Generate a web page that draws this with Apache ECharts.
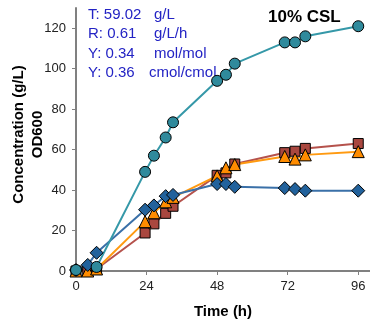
<!DOCTYPE html>
<html>
<head>
<meta charset="utf-8">
<script src="https://cdn.jsdelivr.net/npm/echarts@6/dist/echarts.min.js"></script>
<style>
  html, body { margin: 0; padding: 0; background: #fff; }
  #chart { width: 370px; height: 324px; }
</style>
</head>
<body>
<div id="chart"></div>
<script>
// sampling times (h)
const times = [0, 4, 7, 23.5, 26.5, 30.5, 33, 48, 51, 54, 71, 74.5, 78, 96];

// series values (null = no sample)
const od600 = [0.5, null, 2, 49, 57, 66, 73.5, 94, 97, 102.5, 113, 113, 116, 121];
const diamondVals = [0.5, 3, 9, 30.3, 32.4, 37, 37.6, 43, 43, 41.6, 41, 40.5, 39.7, 39.7];
const squareVals = [0, 0, 1, 18.8, 23.3, 28.5, 32, 47.3, 48.5, 52.9, 58.5, 59.2, 60.6, 63];
const triangleVals = [0, 0, 1, 24.4, 28.8, 34.2, 36.4, 47, 51, 52.6, 56.6, 55.3, 57.4, 59];

const xTicks = [0, 24, 48, 72, 96];
const yTicks = [0, 20, 40, 60, 80, 100, 120];

const infoLines = [
  ['T: 59.02', 'g/L'],
  ['R: 0.61', 'g/L/h'],
  ['Y: 0.34', 'mol/mol'],
  ['Y: 0.36', 'cmol/cmol']
];

const pair = vals => times.map((t, i) => [t, vals[i]]);

const font = '"Liberation Sans", Arial, sans-serif';
const axisGray = '#808080';
const infoBlue = '#2323c4';

const chart = echarts.init(document.getElementById('chart'));

function mkSeries(name, vals, symbol, size, fill, lineColor) {
  return {
    name,
    type: 'line',
    data: pair(vals),
    symbol,
    symbolSize: size,
    showAllSymbol: true,
    connectNulls: true,
    lineStyle: { color: lineColor, width: 2 },
    itemStyle: { color: fill, borderColor: '#000', borderWidth: 1 },
    emphasis: { disabled: true },
    animation: false
  };
}

const unitX = [154, 154, 154, 149];
const rowY = [16, 35.5, 55, 74.5];
const graphics = [];
infoLines.forEach((ln, i) => {
  graphics.push({
    type: 'text', left: 88, top: rowY[i] - 9,
    style: { text: ln[0], font: '15px ' + font, fill: infoBlue }
  });
  graphics.push({
    type: 'text', left: unitX[i], top: rowY[i] - 9,
    style: { text: ln[1], font: '15px ' + font, fill: infoBlue }
  });
});
graphics.push({
  type: 'text', left: 268, top: 9,
  style: { text: '10% CSL', font: 'bold 17px ' + font, fill: '#000' }
});
// y axis title (two lines, rotated)
graphics.push({
  type: 'text', x: 19, y: 134.5, rotation: Math.PI / 2,
  style: { text: 'Concentration (g/L)', font: 'bold 15px ' + font, fill: '#000', align: 'center', verticalAlign: 'middle' }
});
graphics.push({
  type: 'text', x: 38, y: 134.5, rotation: Math.PI / 2,
  style: { text: 'OD600', font: 'bold 15px ' + font, fill: '#000', align: 'center', verticalAlign: 'middle' }
});

const option = {
  backgroundColor: '#fff',
  animation: false,
  grid: { left: 76, right: 0, top: 8, bottom: 47, containLabel: false },
  xAxis: {
    type: 'value',
    min: 0,
    max: 100,
    interval: 4,
    name: 'Time (h)',
    nameLocation: 'middle',
    nameGap: 33,
    nameTextStyle: { fontFamily: font, fontWeight: 'bold', fontSize: 15, color: '#000' },
    axisLine: { lineStyle: { color: axisGray, width: 2 } },
    axisTick: { show: true, length: 4, lineStyle: { color: axisGray }, customValues: xTicks },
    axisLabel: { customValues: xTicks, margin: 9, fontFamily: font, fontSize: 13, color: '#222' },
    splitLine: { show: false }
  },
  yAxis: {
    type: 'value',
    min: 0,
    max: 130,
    interval: 10,
    axisLine: { show: true, lineStyle: { color: axisGray, width: 2 } },
    axisTick: { show: true, length: 4, lineStyle: { color: axisGray }, customValues: yTicks },
    axisLabel: { customValues: yTicks, margin: 10, fontFamily: font, fontSize: 13, color: '#222' },
    splitLine: { show: false }
  },
  graphic: graphics,
  series: [
    mkSeries('square', squareVals, 'rect', 10, '#a9473f', '#b5524c'),
    mkSeries('triangle', triangleVals, 'triangle', 12, '#ff8c00', '#ff9a10'),
    mkSeries('diamond', diamondVals, 'diamond', 13, '#22629c', '#3a70a8'),
    mkSeries('od600', od600, 'circle', 11, '#2f8a9c', '#3598a8')
  ]
};

chart.setOption(option);
</script>
</body>
</html>
